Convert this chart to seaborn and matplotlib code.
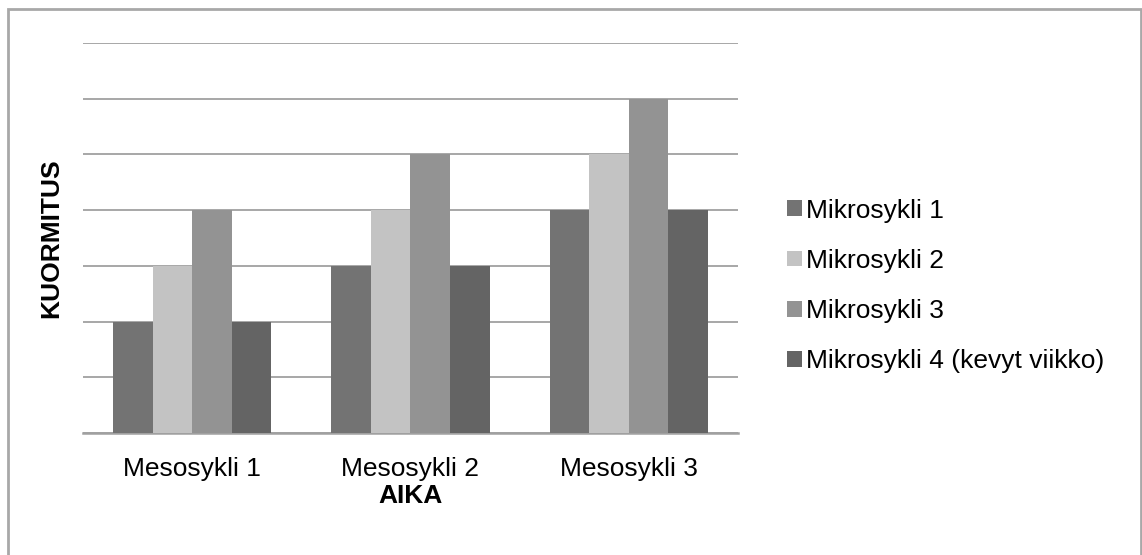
import matplotlib
matplotlib.use("Agg")
import matplotlib.pyplot as plt
from matplotlib.patches import Patch, Rectangle
import pandas as pd
import seaborn as sns

# Training load per mesocycle and microcycle
mesocycles = ["Mesosykli 1", "Mesosykli 2", "Mesosykli 3"]
microcycles = ["Mikrosykli 1", "Mikrosykli 2", "Mikrosykli 3", "Mikrosykli 4 (kevyt viikko)"]
micro1 = [2, 3, 4]
micro2 = [3, 4, 5]
micro3 = [4, 5, 6]
micro4 = [2, 3, 4]
colors = ["#737373", "#c3c3c3", "#939393", "#646464"]

rows = []
for name, vals in zip(microcycles, [micro1, micro2, micro3, micro4]):
    for meso, v in zip(mesocycles, vals):
        rows.append({"Mesosykli": meso, "Mikrosykli": name, "Kuormitus": v})
df = pd.DataFrame(rows)

sns.set_style("white")
plt.rcParams["font.family"] = ["Liberation Sans", "DejaVu Sans"]
plt.rcParams["text.color"] = "black"

fig = plt.figure(figsize=(11.42, 5.55), dpi=100)
ax = fig.add_axes([0.0727, 0.2198, 0.5735, 0.7027])

sns.barplot(data=df, x="Mesosykli", y="Kuormitus", hue="Mikrosykli",
            palette=colors, saturation=1, width=0.725, gap=0,
            linewidth=0, ax=ax, legend=False, zorder=3)

ax.set_ylim(0, 7)
ax.set_xlim(-0.5, 2.5)
ax.set_yticks(range(0, 8))
ax.yaxis.grid(True, color="#a0a0a0", linewidth=1.3, zorder=0)
ax.set_axisbelow(True)
ax.tick_params(axis="y", left=False, labelleft=False)
ax.tick_params(axis="x", bottom=False, labelsize=19, pad=14, labelcolor="black")
for side in ["top", "right", "left"]:
    ax.spines[side].set_visible(False)
ax.spines["bottom"].set_color("#a0a0a0")
ax.spines["bottom"].set_linewidth(1.8)

ax.set_xlabel("AIKA", fontsize=19, fontweight="bold", labelpad=2, color="black")
ax.set_ylabel("KUORMITUS", fontsize=19, fontweight="bold", labelpad=14, color="black")

handles = [Patch(facecolor=c, edgecolor="none", label=l) for c, l in zip(colors, microcycles)]
fig.legend(handles=handles, loc="upper left", bbox_to_anchor=(0.680, 0.661),
           frameon=False, fontsize=19, handlelength=0.55, handleheight=0.55,
           handletextpad=0.15, labelspacing=0.99, borderaxespad=0,
           labelcolor="black")

# Outer chart frame
fig.patches.append(Rectangle((8 / 1142, -0.05), (1141 - 8) / 1142, 1.05 - 8.5 / 555,
                             transform=fig.transFigure, fill=False,
                             edgecolor="#a8a8a8", linewidth=2, zorder=10))

fig.savefig("out.png", dpi=100)
